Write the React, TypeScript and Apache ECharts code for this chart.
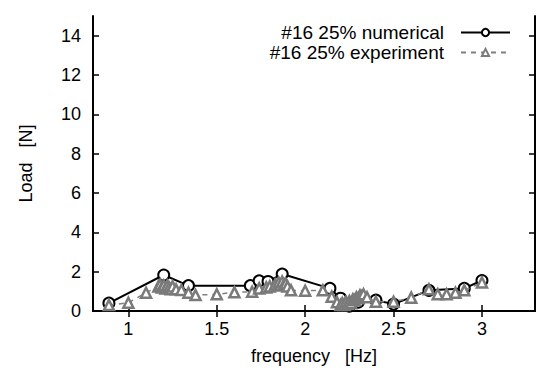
import React, { useEffect, useRef } from "react";
import * as echarts from "echarts";

const numFreq = [0.89, 1.2, 1.34, 1.69, 1.74, 1.79, 1.87, 2.14, 2.2, 2.25, 2.3, 2.4, 2.5, 2.7, 2.9, 3.0];
const numLoad = [0.4, 1.83, 1.29, 1.29, 1.53, 1.5, 1.88, 1.15, 0.65, 0.25, 0.45, 0.55, 0.35, 1.05, 1.15, 1.55];

const expFreq = [
  0.89, 1.0, 1.1, 1.17, 1.18, 1.19, 1.2, 1.21, 1.22, 1.23, 1.24, 1.25, 1.27, 1.3, 1.34, 1.38,
  1.5, 1.6, 1.7, 1.74, 1.78, 1.8, 1.83, 1.85, 1.86, 1.87, 1.88, 1.89, 1.9, 1.92, 2.0, 2.1,
  2.15, 2.18, 2.2, 2.21, 2.22, 2.23, 2.24, 2.25, 2.26, 2.27, 2.28, 2.29, 2.3, 2.31, 2.32, 2.33,
  2.35, 2.4, 2.5, 2.6, 2.7, 2.75, 2.8, 2.85, 2.9, 3.0,
];
const expLoad = [
  0.3, 0.42, 0.93, 1.25, 1.35, 1.2, 1.3, 1.15, 1.3, 1.2, 1.1, 1.25, 1.1, 1.07, 0.93, 0.81,
  0.85, 0.95, 0.98, 1.15, 1.2, 1.25, 1.35, 1.45, 1.3, 1.5, 1.35, 1.4, 1.25, 1.05, 1.03, 1.05,
  0.73, 0.45, 0.3, 0.4, 0.3, 0.45, 0.35, 0.5, 0.4, 0.6, 0.55, 0.7, 0.65, 0.8, 0.75, 0.85,
  0.7, 0.47, 0.47, 0.68, 1.1, 0.85, 0.85, 0.93, 1.05, 1.45,
];

const xTicks = [1, 1.5, 2, 2.5, 3];
const yTicks = [0, 2, 4, 6, 8, 10, 12, 14];

const FONT = "Liberation Sans, Arial, sans-serif";

export default function App() {
  const ref = useRef<HTMLDivElement>(null);
  useEffect(() => {
    if (!ref.current) return;
    const chart = echarts.init(ref.current, null, { renderer: "svg" });
    const axisLine = { show: true, lineStyle: { color: "#000", width: 2 } };
    const tickStyle = { show: true, inside: true, length: 6, lineStyle: { color: "#000", width: 1.5 } };
    chart.setOption({
      animation: false,
      backgroundColor: "#fff",
      grid: { left: 93, right: 2, top: 16, bottom: 66, containLabel: false },
      legend: {
        orient: "vertical",
        right: 26,
        top: 23,
        padding: 0,
        align: "right",
        itemWidth: 49,
        itemHeight: 9,
        itemGap: 1,
        textStyle: { fontFamily: FONT, fontSize: 19, lineHeight: 18, color: "#000", padding: [0, 12, 0, 0] },
        data: ["#16 25% numerical", "#16 25% experiment"],
      },
      xAxis: [
        {
          type: "value",
          min: 0.8,
          max: 3.3,
          name: "frequency   [Hz]",
          nameLocation: "middle",
          nameGap: 36,
          nameTextStyle: { fontFamily: FONT, fontSize: 18, color: "#000" },
          axisLine,
          axisTick: { ...tickStyle, customValues: xTicks },
          axisLabel: { customValues: xTicks, margin: 9, fontFamily: FONT, fontSize: 18, color: "#000" },
          splitLine: { show: false },
        },
        {
          type: "value",
          position: "top",
          min: 0.8,
          max: 3.3,
          axisLine,
          axisTick: { ...tickStyle, customValues: xTicks },
          axisLabel: { show: false },
          splitLine: { show: false },
        },
      ],
      yAxis: [
        {
          type: "value",
          min: 0,
          max: 15,
          name: "Load   [N]",
          nameLocation: "middle",
          nameGap: 58,
          nameTextStyle: { fontFamily: FONT, fontSize: 18, color: "#000" },
          axisLine,
          axisTick: { ...tickStyle, customValues: yTicks },
          axisLabel: { customValues: yTicks, margin: 12, fontFamily: FONT, fontSize: 18, color: "#000" },
          splitLine: { show: false },
        },
        {
          type: "value",
          position: "right",
          min: 0,
          max: 15,
          axisLine,
          axisTick: { ...tickStyle, customValues: yTicks },
          axisLabel: { show: false },
          splitLine: { show: false },
        },
      ],
      series: [
        {
          name: "#16 25% numerical",
          type: "line",
          data: numFreq.map((f, i) => [f, numLoad[i]]),
          symbol: "circle",
          symbolSize: 11,
          lineStyle: { color: "#000", width: 2 },
          itemStyle: { color: "#fff", borderColor: "#000", borderWidth: 2 },
          z: 2,
        },
        {
          name: "#16 25% experiment",
          type: "line",
          data: expFreq.map((f, i) => [f, expLoad[i]]),
          symbol: "triangle",
          symbolSize: 10,
          lineStyle: { color: "#808080", width: 1.5, type: [5, 5] },
          itemStyle: { color: "#fff", borderColor: "#7a7a7a", borderWidth: 2.5 },
          z: 3,
        },
      ],
    });
    return () => chart.dispose();
  }, []);
  return <div ref={ref} style={{ position: "absolute", left: 0, top: 0, width: 537, height: 377 }} />;
}
